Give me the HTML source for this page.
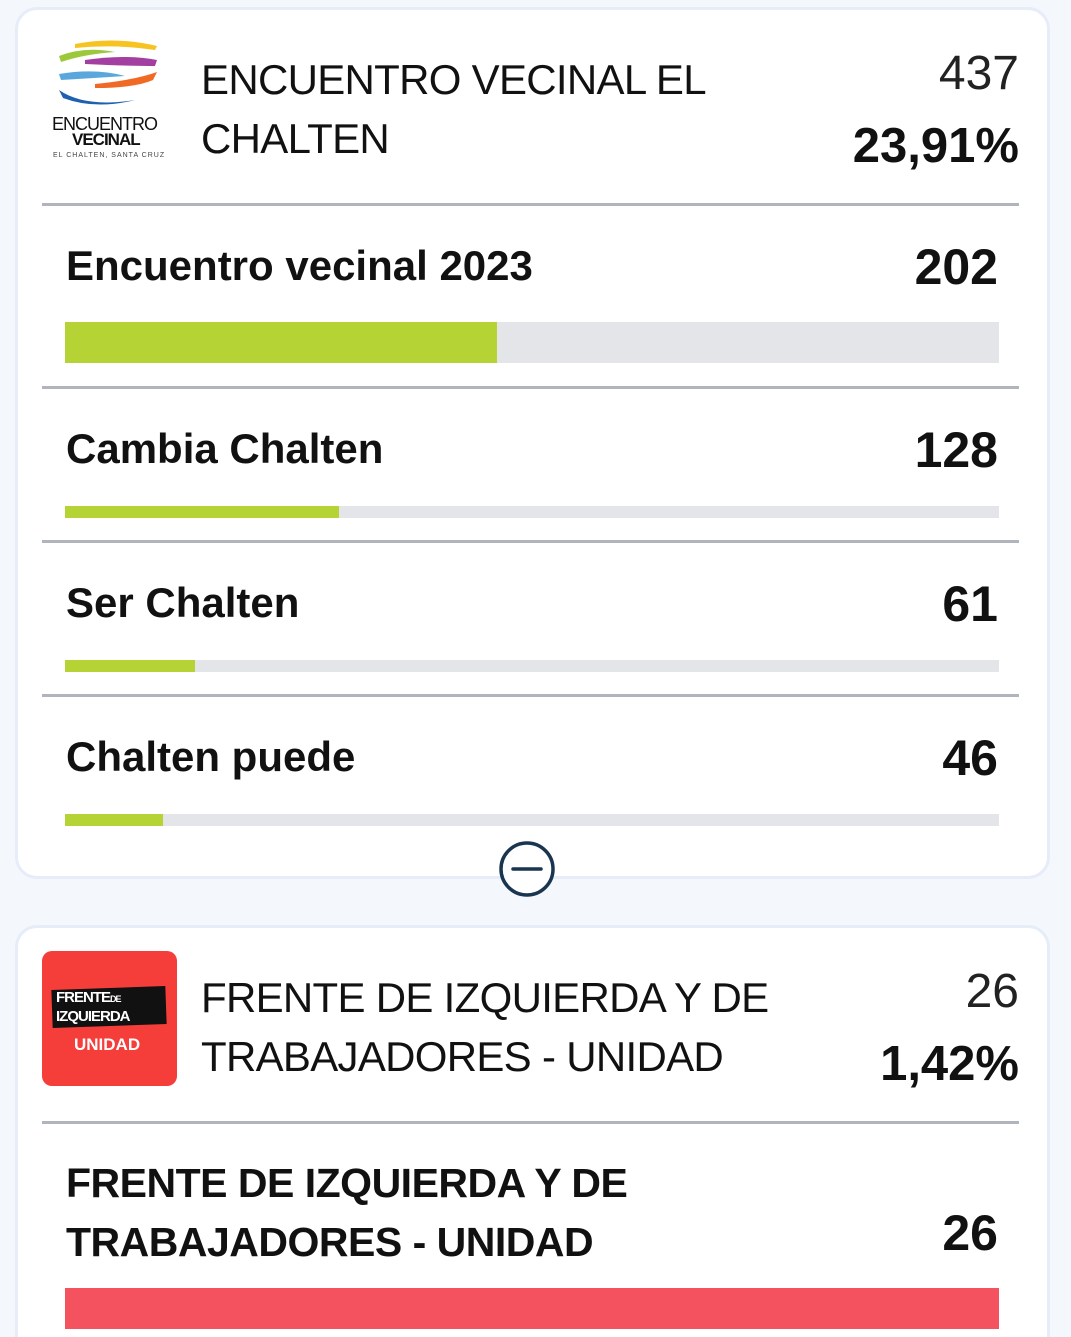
<!DOCTYPE html>
<html style="height:1337px;overflow:hidden"><head><style>
body{margin:0;width:1071px;height:1337px;background:#f4f7fc;position:relative;overflow:hidden;font-family:"Liberation Sans",sans-serif;color:#111}
.card{position:absolute;left:15px;width:1029px;background:#fff;border:3px solid #e6ecf8;border-radius:22px}
.a{position:absolute;white-space:nowrap}
.sep{position:absolute;left:42px;width:977px;height:3px;background:#b0b4bc}
.bar{position:absolute;left:65px;width:934px;background:#e3e5e8}
.bar i{position:absolute;left:0;top:0;bottom:0;background:#b5d334}
.t{font-size:42px;line-height:59px;letter-spacing:-0.7px}
.r{font-size:42px;font-weight:bold}
.n{font-size:50px;font-weight:bold;right:73px}
</style></head><body>
<div class="card" style="top:7px;height:866px"></div>
<div class="card" style="top:925px;height:440px"></div>

<svg class="a" style="left:55px;top:38px" width="110" height="72" viewBox="0 0 110 72">
<path d="M20 6 Q60 -2 102 8 L100 12 Q60 6 20 10Z" fill="#f6c320"/>
<path d="M4 18 Q30 8 60 14 Q30 16 6 24Z" fill="#9cc93a"/>
<path d="M30 22 Q70 16 102 22 L100 28 Q70 28 30 26Z" fill="#a23fa0"/>
<path d="M4 36 Q40 30 70 38 Q40 40 6 42Z" fill="#5aa7dd"/>
<path d="M40 46 Q80 42 102 34 L98 42 Q80 50 40 50Z" fill="#f06a25"/>
<path d="M4 52 Q30 70 80 62 Q40 72 8 60Z" fill="#1f60b0"/>
</svg>
<div class="a" style="left:52px;top:114px;font-size:18px;letter-spacing:-1px">ENCUENTRO</div>
<div class="a" style="left:72px;top:130px;font-size:17px;font-weight:bold;letter-spacing:-1px">VECINAL</div>
<div class="a" style="left:53px;top:152px;font-size:7px;letter-spacing:1px;color:#444">EL CHALTEN, SANTA CRUZ</div>

<div class="a t" style="left:201px;top:50px">ENCUENTRO VECINAL EL<br>CHALTEN</div>
<div class="a" style="right:52px;top:46px;font-size:48px;font-weight:300;color:#222">437</div>
<div class="a" style="right:52px;top:118px;font-size:49px;font-weight:bold">23,91%</div>
<div class="sep" style="top:203px"></div>

<div class="a r" style="left:66px;top:242px">Encuentro vecinal 2023</div>
<div class="a n" style="top:238px">202</div>
<div class="bar" style="top:322px;height:41px"><i style="width:432px"></i></div>
<div class="sep" style="top:386px"></div>

<div class="a r" style="left:66px;top:425px">Cambia Chalten</div>
<div class="a n" style="top:421px">128</div>
<div class="bar" style="top:506px;height:12px"><i style="width:274px"></i></div>
<div class="sep" style="top:540px"></div>

<div class="a r" style="left:66px;top:579px">Ser Chalten</div>
<div class="a n" style="top:575px">61</div>
<div class="bar" style="top:660px;height:12px"><i style="width:130px"></i></div>
<div class="sep" style="top:694px"></div>

<div class="a r" style="left:66px;top:733px">Chalten puede</div>
<div class="a n" style="top:729px">46</div>
<div class="bar" style="top:814px;height:12px"><i style="width:98px"></i></div>

<svg class="a" style="left:498px;top:840px" width="60" height="60"><circle cx="29" cy="29" r="26" fill="#fff" stroke="#1a3550" stroke-width="3.5"/><line x1="15" y1="29" x2="43" y2="29" stroke="#1a3550" stroke-width="3.5" stroke-linecap="round"/></svg>

<div class="a" style="left:42px;top:951px;width:135px;height:135px;background:#f53d3a;border-radius:10px">
<div class="a" style="left:10px;top:37px;width:114px;height:38px;background:#111;transform:rotate(-2deg)"></div>
<div class="a" style="left:14px;top:38px;color:#fff;font-size:15px;font-weight:bold;line-height:17px;letter-spacing:-1px">FRENTE<span style="font-size:9px">DE</span><br>IZQUIERDA</div>
<div class="a" style="left:32px;top:84px;color:#fff;font-size:17px;font-weight:bold">UNIDAD</div>
</div>
<div class="a t" style="left:201px;top:968px">FRENTE DE IZQUIERDA Y DE<br>TRABAJADORES - UNIDAD</div>
<div class="a" style="right:52px;top:964px;font-size:48px;font-weight:300;color:#222">26</div>
<div class="a" style="right:52px;top:1036px;font-size:49px;font-weight:bold">1,42%</div>
<div class="sep" style="top:1121px"></div>

<div class="a r" style="left:66px;top:1154px;line-height:59px;font-size:41px;letter-spacing:-0.5px">FRENTE DE IZQUIERDA Y DE<br>TRABAJADORES - UNIDAD</div>
<div class="a n" style="top:1204px">26</div>
<div class="bar" style="top:1288px;height:41px;background:#f5525f"></div>
</body></html>
